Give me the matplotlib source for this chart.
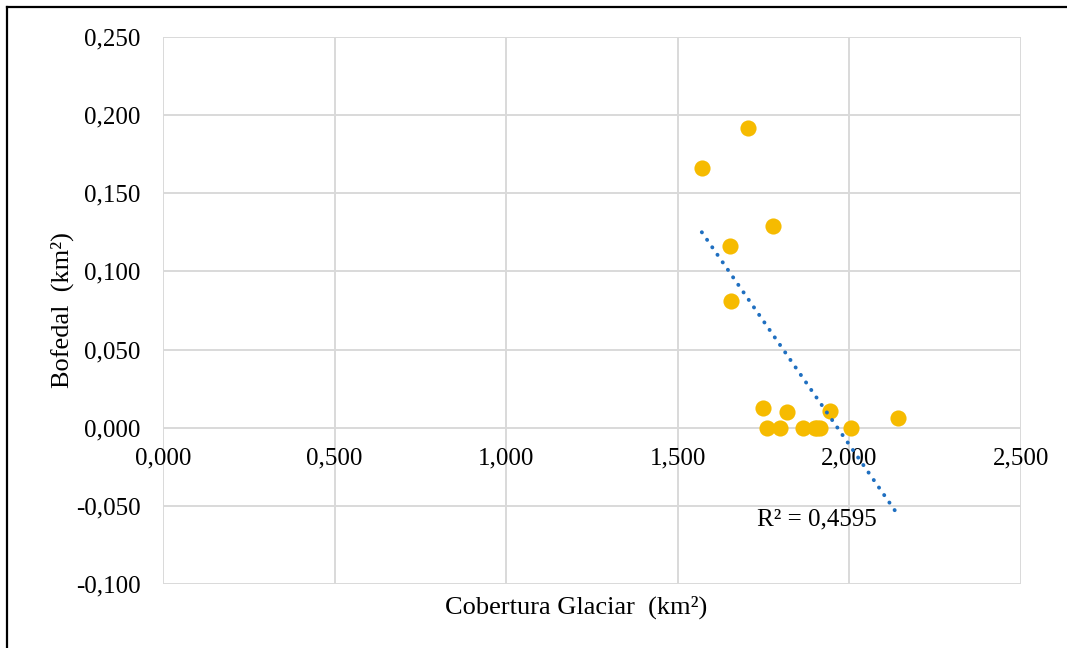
import numpy as np
import matplotlib
matplotlib.use("Agg")
import matplotlib.pyplot as plt
from matplotlib.lines import Line2D
from matplotlib.ticker import MultipleLocator, FuncFormatter

# Data (km2)
cobertura_glaciar = [1.570, 1.705, 1.777, 1.652, 1.654, 1.748, 1.818, 1.943, 2.142,
                     1.760, 1.798, 1.865, 1.900, 1.905, 1.914, 2.004]
bofedal = [0.166, 0.192, 0.129, 0.116, 0.081, 0.0128, 0.0102, 0.0109, 0.0064,
           0.0, 0.0, 0.0, 0.0, 0.0, 0.0, 0.0]
r2_label = "R² = 0,4595"
x_label = "Cobertura Glaciar  (km²)"
y_label = "Bofedal  (km²)"

plt.rcParams['font.family'] = ['Liberation Serif', 'DejaVu Serif']

fig = plt.figure(figsize=(10.67, 6.48), dpi=100)
ax = fig.add_axes([163/1067, 1-584/648, (1021-163)/1067, (584-37)/648])

ax.set_xlim(0, 2.5)
ax.set_ylim(-0.1, 0.25)
ax.xaxis.set_major_locator(MultipleLocator(0.5))
ax.yaxis.set_major_locator(MultipleLocator(0.05))
fmt = FuncFormatter(lambda v, p: f"{v:.3f}".replace('.', ',').replace('-0,000', '0,000'))
ax.xaxis.set_major_formatter(fmt)
ax.yaxis.set_major_formatter(fmt)

ax.grid(True, color='#d9d9d9', linewidth=1.4)
ax.set_axisbelow(True)
for s in ['top', 'right', 'left']:
    ax.spines[s].set_visible(False)
ax.spines['bottom'].set_position(('data', 0))
ax.spines['bottom'].set_visible(False)
ax.tick_params(axis='both', length=0, labelsize=18, colors='black')
ax.tick_params(axis='x', pad=14)
ax.tick_params(axis='y', pad=16)

ax.scatter(cobertura_glaciar, bofedal, s=135, color='#F6BB00', zorder=3, linewidths=0)

# Linear trendline
xs = np.array(cobertura_glaciar)
ys = np.array(bofedal)
m, b = np.polyfit(xs, ys, 1)
xt = np.array([xs.min(), xs.max()])
ax.plot(xt, m*xt + b, color='#1F6FC0', linewidth=2.8, linestyle=(0, (0.05, 2.3)),
        dash_capstyle='round', zorder=4)

ax.text(1.731, -0.0588, r2_label, fontsize=18, ha='left', va='center', zorder=5)

ax.set_xlabel(x_label, fontsize=19)
ax.xaxis.set_label_coords((576-163)/858, -0.022)
ax.set_ylabel(y_label, fontsize=19)
ax.yaxis.set_label_coords(-0.104, 0.5)

# outer border (left and top)
fig.add_artist(Line2D([7/1067, 7/1067], [0, 1-7/648], color='black', linewidth=1.6,
                      transform=fig.transFigure))
fig.add_artist(Line2D([7/1067, 1], [1-7/648, 1-7/648], color='black', linewidth=1.6,
                      transform=fig.transFigure))

fig.savefig('out.png', dpi=100)
